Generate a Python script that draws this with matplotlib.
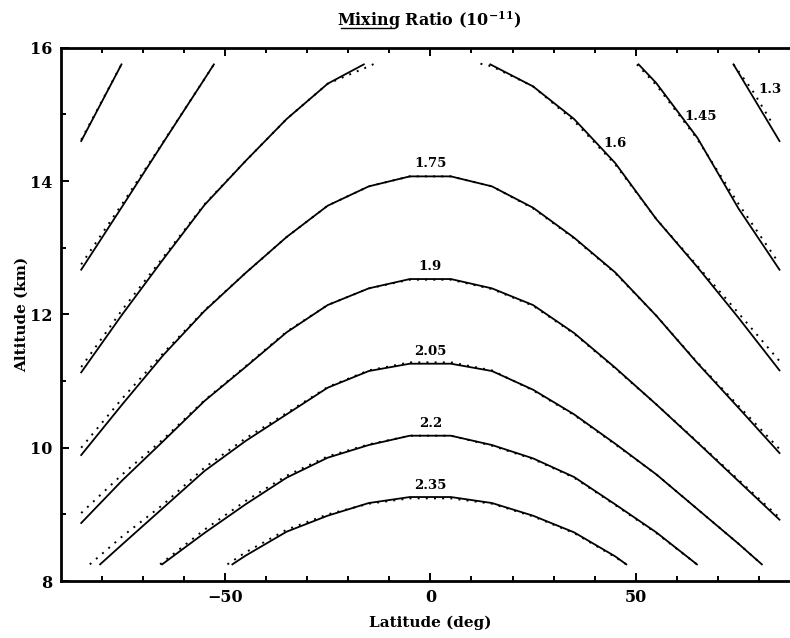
import matplotlib.pyplot as plt
from matplotlib.lines import Line2D

plt.rcParams['font.family'] = 'DejaVu Serif'
plt.rcParams['font.weight'] = 'bold'
plt.rcParams['mathtext.fontset'] = 'dejavuserif'
plt.rcParams['mathtext.default'] = 'bf'

# contour labels (mixing ratio, 10^-11) and where they sit
label_text = ['1.3', '1.45', '1.6', '1.75', '1.9', '2.05', '2.2', '2.35']
label_lat = [82.7, 65.7, 45, 0, 0, 0, 0, 0]
label_alt = [15.37, 14.97, 14.56, 14.27, 12.72, 11.44, 10.37, 9.43]

# latitude grid of the closed-across-equator contours
lat18 = [-85, -75, -65, -55, -45, -35, -25, -15, -5, 5, 15, 25, 35, 45, 55, 65, 75, 85]

# 1.3 (two pieces)
c130_lat_l = [-85, -75.2]
c130_alt_l = [14.6, 15.75]
c130_dot_alt_l = [14.62, 15.75]
c130_lat_r = [73.8, 85]
c130_alt_r = [15.75, 14.6]
c130_dot_lat_r = [73.8, 78.3, 83.5]
c130_dot_alt_r = [15.75, 15.37, 14.84]

# 1.45
c145_lat_l = [-85, -75, -65, -55, -52.7]
c145_alt_l = [12.67, 13.62, 14.58, 15.53, 15.75]
c145_dot_alt_l = [12.75, 13.66, 14.59, 15.53, 15.75]
c145_lat_r = [50.7, 55, 65, 75, 85]
c145_alt_r = [15.75, 15.47, 14.65, 13.59, 12.67]
c145_dot_lat_r = [50.3, 55, 65, 75, 84.4]
c145_dot_alt_r = [15.75, 15.44, 14.63, 13.66, 12.81]

# 1.6
c160_lat_l = [-85, -75, -65, -55, -45, -35, -25, -16.2]
c160_alt_l = [11.13, 12.0, 12.83, 13.64, 14.3, 14.93, 15.46, 15.75]
c160_dot_lat_l = [-85, -75, -65, -55, -45, -35, -25, -15, -13.6]
c160_dot_alt_l = [11.21, 12.07, 12.86, 13.65, 14.3, 14.93, 15.46, 15.72, 15.76]
c160_lat_r = [14.6, 25, 35, 45, 55, 65, 75, 85]
c160_alt_r = [15.75, 15.42, 14.93, 14.27, 13.43, 12.71, 11.95, 11.16]
c160_dot_lat_r = [12.2, 15, 25, 35, 45, 55, 65, 75, 85]
c160_dot_alt_r = [15.76, 15.72, 15.42, 14.9, 14.25, 13.43, 12.73, 12.02, 11.3]

# 1.75
c175_alt = [9.89, 10.65, 11.39, 12.05, 12.62, 13.16, 13.63, 13.92, 14.07,
            14.07, 13.92, 13.60, 13.15, 12.63, 11.98, 11.27, 10.6, 9.92]
c175_dot_alt = [10.0, 10.74, 11.42, 12.06, 12.62, 13.16, 13.63, 13.92, 14.07,
                14.07, 13.92, 13.59, 13.14, 12.62, 11.98, 11.28, 10.63, 9.98]

# 1.9
c190_alt = [8.87, 9.51, 10.10, 10.70, 11.21, 11.73, 12.14, 12.39, 12.53,
            12.53, 12.39, 12.14, 11.72, 11.2, 10.65, 10.08, 9.5, 8.92]
c190_dot_alt = [9.02, 9.6, 10.13, 10.71, 11.22, 11.74, 12.14, 12.39, 12.52,
                12.52, 12.38, 12.13, 11.71, 11.19, 10.65, 10.09, 9.52, 8.95]

# 2.05
c205_lat = [-80.4, -75, -65, -55, -45, -35, -25, -15, -5, 5, 15, 25, 35, 45, 55, 65, 75, 80.7]
c205_alt = [8.25, 8.55, 9.1, 9.65, 10.1, 10.5, 10.9, 11.15, 11.26,
            11.26, 11.15, 10.87, 10.5, 10.06, 9.6, 9.08, 8.56, 8.25]
c205_dot_lat = [-82.9, -75, -65, -55, -45, -35, -25, -15, -5, 5, 15, 25, 35, 45, 55, 65, 75, 80.7]
c205_dot_alt = [8.25, 8.67, 9.15, 9.7, 10.14, 10.52, 10.91, 11.16, 11.28,
                11.28, 11.16, 10.86, 10.49, 10.05, 9.6, 9.08, 8.56, 8.25]

# 2.2
c220_lat = [-65.3, -55, -45, -35, -25, -15, -5, 5, 15, 25, 35, 45, 55, 64.9]
c220_alt = [8.25, 8.72, 9.15, 9.55, 9.85, 10.04, 10.18, 10.18, 10.04, 9.84, 9.56, 9.15, 8.73, 8.25]
c220_dot_lat = [-65.8, -55, -45, -35, -25, -15, -5, 5, 15, 25, 35, 45, 55, 64.9]
c220_dot_alt = [8.25, 8.77, 9.2, 9.58, 9.87, 10.05, 10.18, 10.18, 10.03, 9.83, 9.55, 9.14, 8.72, 8.25]

# 2.35
c235_lat = [-48.2, -45, -35, -25, -15, -5, 5, 15, 25, 35, 45, 47.7]
c235_alt = [8.25, 8.38, 8.74, 8.98, 9.17, 9.26, 9.26, 9.17, 8.98, 8.73, 8.37, 8.25]
c235_dot_lat = [-49.4, -45, -35, -25, -15, -5, 5, 15, 25, 35, 45, 47.7]
c235_dot_alt = [8.25, 8.43, 8.77, 9.0, 9.16, 9.24, 9.24, 9.16, 8.97, 8.72, 8.36, 8.25]

solid = [
    (c130_lat_l, c130_alt_l), (c130_lat_r, c130_alt_r),
    (c145_lat_l, c145_alt_l), (c145_lat_r, c145_alt_r),
    (c160_lat_l, c160_alt_l), (c160_lat_r, c160_alt_r),
    (lat18, c175_alt), (lat18, c190_alt),
    (c205_lat, c205_alt), (c220_lat, c220_alt), (c235_lat, c235_alt),
]
dotted = [
    (c130_lat_l, c130_dot_alt_l), (c130_dot_lat_r, c130_dot_alt_r),
    (c145_lat_l, c145_dot_alt_l), (c145_dot_lat_r, c145_dot_alt_r),
    (c160_dot_lat_l, c160_dot_alt_l), (c160_dot_lat_r, c160_dot_alt_r),
    (lat18, c175_dot_alt), (lat18, c190_dot_alt),
    (c205_dot_lat, c205_dot_alt), (c220_dot_lat, c220_dot_alt), (c235_dot_lat, c235_dot_alt),
]

fig = plt.figure(figsize=(7.9, 6.38), dpi=100)
ax = fig.add_axes([0.0768, 0.0893, 0.9359, 0.8359])

for x, y in dotted:
    ax.plot(x, y, color='black', lw=1.4, linestyle=(0, (1, 3.2)))
for x, y in solid:
    ax.plot(x, y, color='black', lw=1.3)

for t, x, y in zip(label_text, label_lat, label_alt):
    ax.text(x, y, t, ha='center', va='center', fontsize=9.5, fontweight='bold')

ax.set_xlim(-90, 90)
ax.set_ylim(8, 16)
ax.set_xticks([-50, 0, 50])
ax.set_xticks(range(-80, 90, 10), minor=True)
ax.set_yticks([8, 10, 12, 14, 16])
ax.set_yticks([9, 11, 13, 15], minor=True)
ax.tick_params(which='both', direction='in', top=True, right=True, width=1.4)
ax.tick_params(which='major', length=6, labelsize=11.5, pad=6)
ax.tick_params(which='minor', length=3.8)
for s in ax.spines.values():
    s.set_linewidth(2.0)

ax.set_xlabel('Latitude (deg)', fontsize=11, fontweight='bold', labelpad=7)
ax.set_ylabel('Altitude (km)', fontsize=11, fontweight='bold', labelpad=1)

fig.text(0.544, 0.968, r'Mixing Ratio (10$^{-11}$)', ha='center', va='center',
         fontsize=11.5, fontweight='bold')
# underline under "Mixing"
fig.add_artist(Line2D([341 / 790, 394 / 790], [1 - 28 / 638, 1 - 28 / 638],
                      color='black', lw=1.0))

fig.savefig('out.png', dpi=100)
